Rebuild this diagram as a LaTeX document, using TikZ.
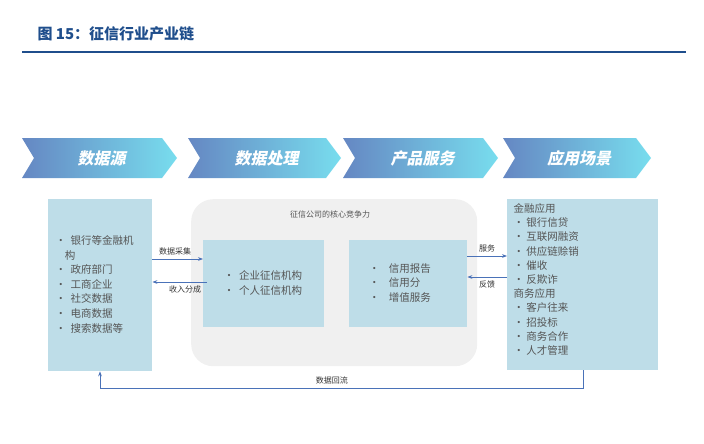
\documentclass[tikz,border=0pt]{standalone}
\usepackage{fontspec}
\newfontfamily\cjk{Noto Sans CJK SC}
\newfontfamily\cjksl[FakeSlant=0.2]{Noto Sans CJK SC}
\newfontfamily\cjkserif{Noto Sans CJK SC}
\usetikzlibrary{arrows.meta}
\definecolor{lb}{HTML}{BEDDE8}
\definecolor{tb}{HTML}{1F4E8C}
\definecolor{ar}{HTML}{4A72B8}
\definecolor{tx}{HTML}{555555}
\tikzset{box/.style={fill=lb,draw=none},
 chev/.style={left color=ar!85!white,right color=ar!40!cyan!60!white,draw=none},
 ctext/.style={text=white,font=\cjksl\bfseries\fontsize{16}{18}\selectfont},
 lst/.style={text=tx,font=\cjk\fontsize{10.5}{14.6}\selectfont,align=left,anchor=north west},
 sm/.style={text=tx,font=\cjk\fontsize{8}{10}\selectfont},
 arr/.style={draw=ar,line width=1pt,-{Stealth[length=5pt]}}}
\begin{document}
\begin{tikzpicture}[x=1pt,y=-1pt]
\useasboundingbox (0,0) rectangle (704,444);
\node[anchor=west,text=tb,font=\cjk\bfseries\fontsize{15}{17}\selectfont] (title) at (34,34) {图\ 15：征信行业产业链};
\draw[tb,line width=2.2pt] (22,52) -- (686,52);
\foreach \x/\w/\t/\n in {22/155/数据源/c1,188/153/数据处理/c2,343/155/产品服务/c3,503/148/应用场景/c4}{
 \path[chev] (\x,138) -- (\x+\w-15,138) -- (\x+\w,158) -- (\x+\w-15,178) -- (\x,178) -- (\x+12,158) -- cycle;
 \node[ctext] (\n) at (\x+\w/2+2,158) {\t};
}
\node[box,minimum width=104,minimum height=172,anchor=north west] (L) at (48,199) {};
\node[lst] (Lt) at (52,232) {•\ \ 银行等金融机\\\ \ \ \ 构\\•\ \ 政府部门\\•\ \ 工商企业\\•\ \ 社交数据\\•\ \ 电商数据\\•\ \ 搜索数据等};
\node[fill=black!6,rounded corners=22pt,minimum width=286,minimum height=167,anchor=north west] (G) at (191,199) {};
\node[sm] (gt) at (330,214) {征信公司的核心竞争力};
\node[box,minimum width=121,minimum height=87,anchor=north west] (M1) at (203,240) {};
\node[lst,anchor=center] (m1t) at (263,283) {•\ \ 企业征信机构\\•\ \ 个人征信机构};
\node[box,minimum width=118,minimum height=87,anchor=north west] (M2) at (349,240) {};
\node[lst,anchor=center] (m2t) at (400,283) {•\ \ \ \ 信用报告\\•\ \ \ \ 信用分\\•\ \ \ \ 增值服务};
\node[box,minimum width=151,minimum height=171,anchor=north west] (R) at (507,199) {};
\node[lst,font=\cjk\fontsize{10.5}{14.2}\selectfont] (Rt) at (510,200) {金融应用\\•\ 银行信贷\\•\ 互联网融资\\•\ 供应链赊销\\•\ 催收\\•\ 反欺诈\\商务应用\\•\ 客户往来\\•\ 招投标\\•\ 商务合作\\•\ 人才管理};
\draw[arr] (L.east|-0,259) -- (M1.west|-0,259) node[pos=0.45,above,sm,text=black!80] {数据采集};
\draw[arr] (207,282) -- (L.east|-0,282) node[pos=0.4,below,sm,text=black!80] {收入分成};
\draw[arr] (M2.east|-0,256) -- (R.west|-0,256) node[midway,above,sm,text=black!80] {服务};
\draw[arr] (R.west|-0,277) -- (M2.east|-0,277) node[midway,below,sm,text=black!80] {反馈};
\coordinate (b1) at (583,388);
\coordinate (b2) at (100,388);
\draw[arr] (R.south-|b1) -- (b1) -- node[above,sm,text=black!80,pos=0.52] {数据回流} (b2) -- (L.south-|b2);
\end{tikzpicture}
\end{document}
